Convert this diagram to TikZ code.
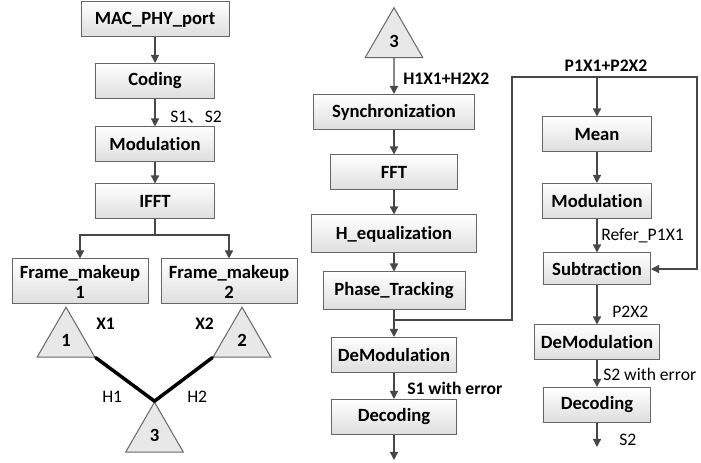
\documentclass[tikz,border=0pt]{standalone}
\usepackage{fontspec}
\setmainfont{Carlito}[Ligatures={NoCommon}]
\newfontfamily\cjkfont{Noto Sans CJK SC}
\usepackage{tikz}
\usetikzlibrary{arrows.meta}
\usetikzlibrary{shapes.geometric}
\tikzset{
  box/.style={draw=black!60, line width=0.75pt, top color=white, bottom color=black!13,
    font=\fontsize{14}{15}\selectfont\bfseries, minimum height=26.25pt, inner sep=0pt, align=center},
  tri/.style={regular polygon, regular polygon sides=3, draw=black!60, fill=black!9,
    line width=0.75pt, minimum size=50pt, inner sep=0pt, font=\fontsize{14}{15}\selectfont\bfseries},
  lab/.style={anchor=west, inner sep=0pt, font=\fontsize{13.2}{14}\selectfont},
  blab/.style={lab, font=\fontsize{13.2}{14}\selectfont\bfseries},
  flow/.style={draw=black!72, line width=1pt, -{Triangle[length=6pt,width=6pt]}},
  link/.style={draw=black!72, line width=1pt},
  chan/.style={draw=black, line width=2.6pt}
}

\begin{document}
\begin{tikzpicture}[x=0.75pt,y=0.75pt,yscale=-1,xscale=1]
\path[use as bounding box] (0,0) rectangle (701,463);

%Shape: Rectangle (transmit chain)
\node [box, minimum width=111pt] (mac) at (155,19.5) {MAC\_PHY\_port};
\node [box, minimum width=89.25pt] (cod) at (155,81) {Coding};
\node [box, minimum width=89.25pt] (mod) at (155,144.5) {Modulation};
\node [box, minimum width=89.25pt] (ifft) at (155,201.5) {IFFT};
\node [box, minimum width=102pt, minimum height=33.75pt] (fm1) at (80,281.5) {Frame\_makeup\\1};
\node [box, minimum width=102pt, minimum height=33.75pt] (fm2) at (229,281.5) {Frame\_makeup\\2};

%Shape: Triangle (antennas)
\node [tri] (ant1) at (66,340.5) {1};
\node [tri] (ant2) at (242,340.5) {2};
\node [tri] (rxa) at (154.5,435.5) {3};
\node [tri] (rxb) at (394,41) {3};

%Shape: Rectangle (receive chain)
\node [box, minimum width=120.75pt] (sync) at (394,112) {Synchronization};
\node [box, minimum width=95.25pt] (fft) at (394,172.5) {FFT};
\node [box, minimum width=123.75pt, minimum height=28.5pt] (heq) at (394,234) {H\_equalization};
\node [box, minimum width=106.5pt, minimum height=28.5pt] (pht) at (394,291) {Phase\_Tracking};
\node [box, minimum width=93.75pt] (dmod1) at (394,355) {DeModulation};
\node [box, minimum width=93.75pt] (dec1) at (394,417) {Decoding};

%Shape: Rectangle (interference cancelling chain)
\node [box, minimum width=81.75pt] (mean) at (597,134.5) {Mean};
\node [box, minimum width=81.75pt] (mod2) at (597,201) {Modulation};
\node [box, minimum width=80.25pt, minimum height=24pt] (sub) at (597,269) {Subtraction};
\node [box, minimum width=93.75pt] (dmod2) at (597,342.5) {DeModulation};
\node [box, minimum width=80.25pt] (dec2) at (597,405) {Decoding};

%Free ends
\coordinate (fork) at (155,235);
\coordinate (tap) at (394,320);
\coordinate (loopL) at (512,77);
\coordinate (loopT) at (597,77);
\coordinate (loopR) at (697,77);
\coordinate (out1) at (394,460);
\coordinate (out2) at (597,447);

%Straight Lines
\draw [flow] (mac) -- (cod);
\draw [flow] (cod) -- (mod);
\draw [flow] (mod) -- (ifft);
\draw [link] (ifft) -- (fork);
\draw [flow] (fork) -| (fm1.north);
\draw [flow] (fork) -| (fm2.north);
\draw [chan, line cap=round] (ant1.corner 3) -- (rxa.corner 1);
\draw [chan, line cap=round] (ant2.corner 2) -- (rxa.corner 1);

\draw [flow] (rxb.south) -- (sync);
\draw [flow] (sync) -- (fft);
\draw [flow] (fft) -- (heq);
\draw [flow] (heq) -- (pht);
\draw [flow] (pht) -- (dmod1);
\draw [flow] (dmod1) -- (dec1);
\draw [flow] (dec1) -- (out1);

\draw [flow] (tap) -| (loopL) -- (loopR) |- (sub.east);
\draw [flow] (loopT) -- (mean);
\draw [flow] (mean) -- (mod2);
\draw [flow] (mod2) -- (sub);
\draw [flow] (sub) -- (dmod2);
\draw [flow] (dmod2) -- (dec2);
\draw [flow] (dec2) -- (out2);

% Text Node
\node [lab] (ls) at (170,117) {S1{\cjkfont 、}S2};
\node [blab] (lx1) at (96,324) {X1};
\node [blab] (lx2) at (195,324) {X2};
\node [lab] (lh1) at (102,397) {H1};
\node [lab] (lh2) at (187,397) {H2};
\node [blab] (lrx) at (403,79) {H1X1+H2X2};
\node [blab, anchor=center] (lp) at (606,66) {P1X1+P2X2};
\node [lab] (lref) at (601,236) {Refer\_P1X1};
\node [lab] (lp2) at (612,312) {P2X2};
\node [blab] (le1) at (407,388) {S1 with error};
\node [lab] (le2) at (603,374) {S2 with error};
\node [lab] (ls2) at (619,440) {S2};

\end{tikzpicture}
\end{document}
